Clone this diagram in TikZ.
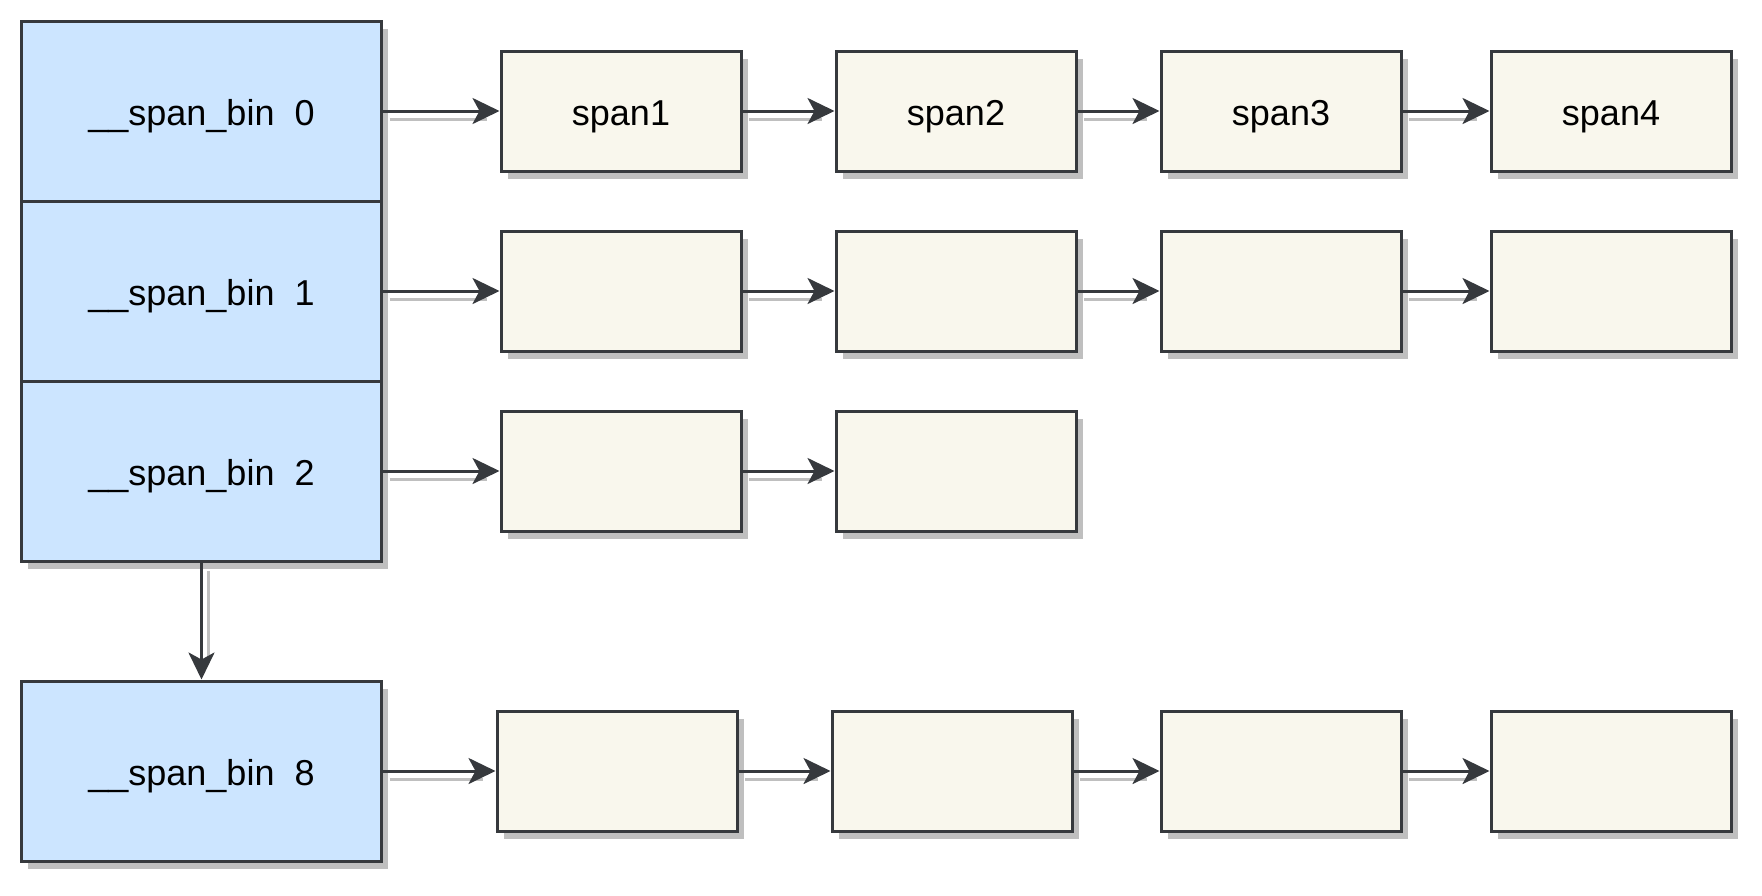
\documentclass[tikz,border=0pt]{standalone}
\usepackage{fontspec}
\setmainfont{Liberation Sans}
\usepackage{tikz}
\usetikzlibrary{positioning, shadows, arrows.meta}
\definecolor{binblue}{HTML}{CCE5FF}
\definecolor{spanfill}{HTML}{F9F7ED}
\definecolor{strokegray}{HTML}{36393D}

\begin{document}
\begin{tikzpicture}[x=1pt, y=-1pt,
  binbox/.style={rectangle, 
      draw=strokegray, 
      line width=3pt, 
      fill=binblue, 
      minimum width=360pt, 
      minimum height=180pt, 
      inner sep=0pt, 
      text height=32pt, 
      text depth=4pt, 
      font=\fontsize{36}{43}\selectfont, 
      drop shadow={shadow xshift=6.5pt, shadow yshift=-8.3pt, fill=black, opacity=0.25}},
  spanbox/.style={rectangle, 
      draw=strokegray, 
      line width=3pt, 
      fill=spanfill, 
      minimum width=240pt, 
      minimum height=120pt, 
      inner sep=0pt, 
      text height=32pt, 
      text depth=4pt, 
      font=\fontsize{36}{43}\selectfont, 
      drop shadow={shadow xshift=6.5pt, shadow yshift=-8.3pt, fill=black, opacity=0.25}},
  link/.style={draw=strokegray, line width=3pt, 
      -{Stealth[length=27pt, width=26pt, inset=7pt]}},
  linkshadow/.style={draw=black!25, line width=3pt, shorten >=#1},
  linkshadow/.default=19pt]

  \useasboundingbox (0,0) rectangle (1762,895);

  % BINS

  \node [binbox] (bin0) at (201.5,111) {\_\_span\_bin~~0};
  \node [binbox] (bin1) at (201.5,291) {\_\_span\_bin~~1};
  \node [binbox] (bin2) at (201.5,471) {\_\_span\_bin~~2};
  \node [binbox] (bin8) at (201.5,771) {\_\_span\_bin~~8};

  % SPANS

  \node [spanbox] (s01) at (621,111) {span1};
  \node [spanbox] (s02) at (956,111) {span2};
  \node [spanbox] (s03) at (1281,111) {span3};
  \node [spanbox] (s04) at (1611,111) {span4};

  \node [spanbox] (s11) at (621,291) {};
  \node [spanbox] (s12) at (956,291) {};
  \node [spanbox] (s13) at (1281,291) {};
  \node [spanbox] (s14) at (1611,291) {};

  \node [spanbox] (s21) at (621,471) {};
  \node [spanbox] (s22) at (956,471) {};

  \node [spanbox] (s81) at (617,771) {};
  \node [spanbox] (s82) at (952,771) {};
  \node [spanbox] (s83) at (1281,771) {};
  \node [spanbox] (s84) at (1611,771) {};

  % LINK SHADOWS

  \draw[linkshadow] ([shift={(6.5,8.3)}]bin0.east) -- ([shift={(6.5,8.3)}]s01.west);
  \draw[linkshadow] ([shift={(6.5,8.3)}]s01.east) -- ([shift={(6.5,8.3)}]s02.west);
  \draw[linkshadow] ([shift={(6.5,8.3)}]s02.east) -- ([shift={(6.5,8.3)}]s03.west);
  \draw[linkshadow] ([shift={(6.5,8.3)}]s03.east) -- ([shift={(6.5,8.3)}]s04.west);

  \draw[linkshadow] ([shift={(6.5,8.3)}]bin1.east) -- ([shift={(6.5,8.3)}]s11.west);
  \draw[linkshadow] ([shift={(6.5,8.3)}]s11.east) -- ([shift={(6.5,8.3)}]s12.west);
  \draw[linkshadow] ([shift={(6.5,8.3)}]s12.east) -- ([shift={(6.5,8.3)}]s13.west);
  \draw[linkshadow] ([shift={(6.5,8.3)}]s13.east) -- ([shift={(6.5,8.3)}]s14.west);

  \draw[linkshadow] ([shift={(6.5,8.3)}]bin2.east) -- ([shift={(6.5,8.3)}]s21.west);
  \draw[linkshadow] ([shift={(6.5,8.3)}]s21.east) -- ([shift={(6.5,8.3)}]s22.west);

  \draw[linkshadow] ([shift={(6.5,8.3)}]bin8.east) -- ([shift={(6.5,8.3)}]s81.west);
  \draw[linkshadow] ([shift={(6.5,8.3)}]s81.east) -- ([shift={(6.5,8.3)}]s82.west);
  \draw[linkshadow] ([shift={(6.5,8.3)}]s82.east) -- ([shift={(6.5,8.3)}]s83.west);
  \draw[linkshadow] ([shift={(6.5,8.3)}]s83.east) -- ([shift={(6.5,8.3)}]s84.west);

  \draw[linkshadow=26pt] ([shift={(6.5,8.3)}]bin2.south) -- ([shift={(6.5,8.3)}]bin8.north);

  % LINKS

  \draw[link] (bin0.east) -- (s01.west);
  \draw[link] (s01.east) -- (s02.west);
  \draw[link] (s02.east) -- (s03.west);
  \draw[link] (s03.east) -- (s04.west);

  \draw[link] (bin1.east) -- (s11.west);
  \draw[link] (s11.east) -- (s12.west);
  \draw[link] (s12.east) -- (s13.west);
  \draw[link] (s13.east) -- (s14.west);

  \draw[link] (bin2.east) -- (s21.west);
  \draw[link] (s21.east) -- (s22.west);

  \draw[link] (bin8.east) -- (s81.west);
  \draw[link] (s81.east) -- (s82.west);
  \draw[link] (s82.east) -- (s83.west);
  \draw[link] (s83.east) -- (s84.west);

  \draw[link] (bin2.south) -- (bin8.north);

\end{tikzpicture}
\end{document}
